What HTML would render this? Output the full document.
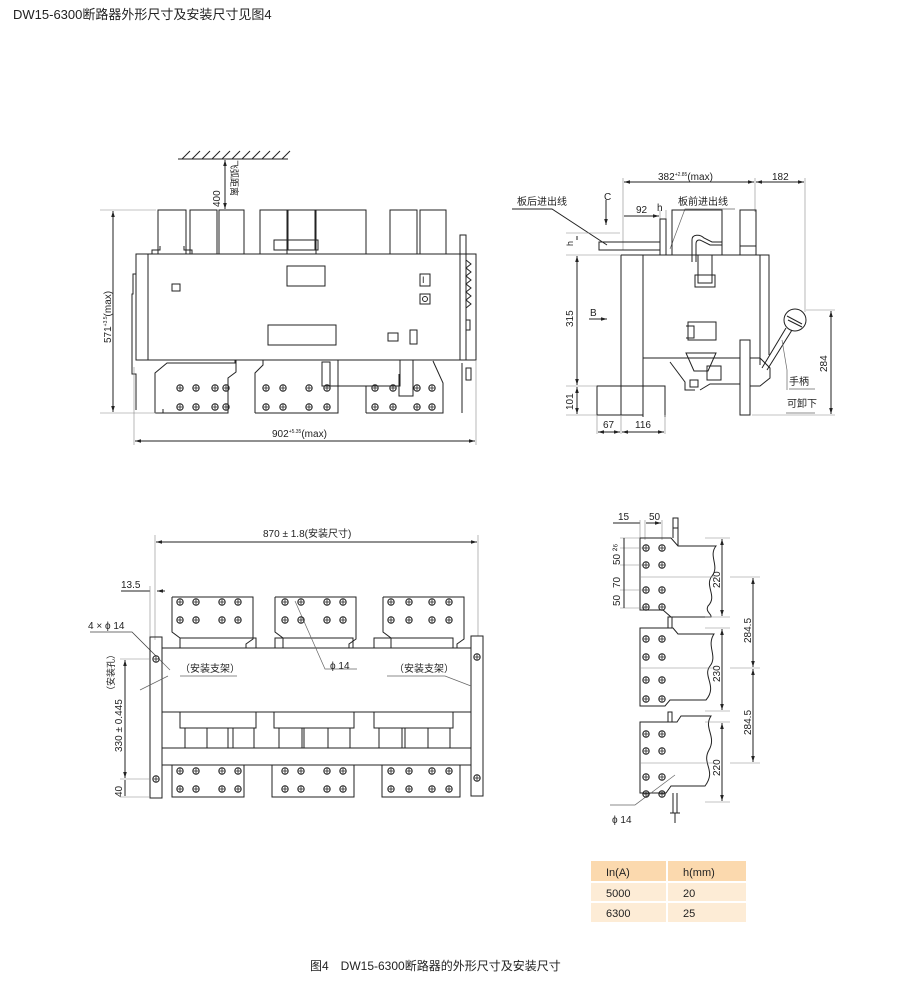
<!DOCTYPE html>
<html><head><meta charset="utf-8"><style>
html,body{margin:0;padding:0;background:#fff;}
svg{display:block;}
text{font-family:"Liberation Sans","Noto Sans CJK SC",sans-serif;fill:#222;}
</style></head><body>
<svg width="920" height="981" viewBox="0 0 920 981" xmlns="http://www.w3.org/2000/svg">
<defs>
<g id="b"><circle r="3.2" fill="none" stroke="#222" stroke-width="1"/><path d="M-3.2 0H3.2M0 -3.2V3.2" stroke="#222" stroke-width="0.8"/></g>
<marker id="a" viewBox="0 0 10 10" refX="10" refY="5" markerWidth="6" markerHeight="6" orient="auto-start-reverse"><path d="M0 2L10 5L0 8z" fill="#222"/></marker>
</defs>
<text x="13" y="19" font-size="13">DW15-6300断路器外形尺寸及安装尺寸见图4</text>

<g fill="none" stroke="#222" stroke-width="1">
<!-- FRONT VIEW -->
<line x1="178" y1="159" x2="288" y2="159"/>
<path d="M182 159l8-8M192 159l8-8M202 159l8-8M212 159l8-8M222 159l8-8M232 159l8-8M242 159l8-8M252 159l8-8M262 159l8-8M272 159l8-8M282 159l8-8"/>
<line x1="225" y1="160" x2="225" y2="209" marker-start="url(#a)" marker-end="url(#a)"/>
<rect x="136" y="254" width="340" height="106"/>
<line x1="148" y1="254" x2="148" y2="360"/>
<path d="M136 254v20h-3v20h-1v80h4v36"/>
<rect x="158" y="210" width="28" height="44"/>
<path d="M152 254v-4h8v-4M184 246v4h8v4"/>
<rect x="190" y="210" width="27" height="44"/>
<rect x="219" y="210" width="25" height="44"/>
<rect x="260" y="210" width="27" height="44"/>
<rect x="288" y="210" width="27" height="40"/>
<rect x="274" y="240" width="44" height="10"/>
<rect x="316" y="210" width="50" height="44"/>
<rect x="390" y="210" width="27" height="44"/>
<rect x="420" y="210" width="26" height="44"/>
<rect x="460" y="235" width="6" height="125"/>
<path d="M466 260l5 4-5 4 5 4-5 4 5 4-5 4 5 4-5 4 5 4-5 4 5 4-5 4"/>
<rect x="466" y="320" width="4" height="10"/>
<rect x="287" y="266" width="38" height="20"/>
<rect x="268" y="325" width="68" height="20"/>
<rect x="172" y="284" width="8" height="7"/>
<rect x="420" y="274" width="10" height="12"/>
<rect x="420" y="294" width="10" height="10"/>
<rect x="388" y="333" width="10" height="8"/>
<rect x="410" y="330" width="7" height="14"/>
<line x1="148" y1="360" x2="476" y2="360"/>
<path d="M155 413v-40l12-10h68v-3M155 413h8v-4M236 360v12l-8 6v35h-73"/>
<path d="M255 413v-40l8-8v-5M255 413h83v-40M338 373v-13"/>
<rect x="322" y="362" width="8" height="24"/>
<path d="M330 386h70v-26M366 413v-27M366 413h77v-30l-10-22M399 374v22h14v-36"/>
<path d="M462 413v-50M466 368h5v12h-5z"/>
<line x1="100" y1="210" x2="156" y2="210" stroke="#888" stroke-width="0.6"/>
<line x1="100" y1="413" x2="156" y2="413" stroke="#888" stroke-width="0.6"/>
<line x1="113" y1="211" x2="113" y2="412" marker-start="url(#a)" marker-end="url(#a)"/>
<line x1="134" y1="367" x2="134" y2="445" stroke="#888" stroke-width="0.6"/>
<line x1="476" y1="360" x2="476" y2="445" stroke="#888" stroke-width="0.6"/>
<line x1="135" y1="441" x2="475" y2="441" marker-start="url(#a)" marker-end="url(#a)"/>

<!-- SIDE VIEW -->
<line x1="623" y1="178" x2="623" y2="250" stroke="#888" stroke-width="0.6"/>
<line x1="755" y1="178" x2="755" y2="212" stroke="#888" stroke-width="0.6"/>
<line x1="805" y1="178" x2="805" y2="312" stroke="#888" stroke-width="0.6"/>
<line x1="624" y1="182" x2="754" y2="182" marker-start="url(#a)" marker-end="url(#a)"/>
<line x1="756" y1="182" x2="804" y2="182" marker-start="url(#a)" marker-end="url(#a)"/>
<line x1="624" y1="216" x2="659" y2="216" marker-end="url(#a)"/>
<line x1="660" y1="210" x2="660" y2="222" stroke="#888" stroke-width="0.6"/>
<line x1="666" y1="210" x2="666" y2="222" stroke="#888" stroke-width="0.6"/>
<path d="M512 209h40l55 36"/>
<path d="M735 209h-50l-15 40" stroke="#666" stroke-width="0.7"/>
<line x1="606" y1="200" x2="606" y2="225" marker-end="url(#a)"/>
<line x1="589" y1="319" x2="607" y2="319" marker-end="url(#a)"/>
<rect x="599" y="242" width="61" height="8"/>
<rect x="660" y="219" width="6" height="36"/>
<rect x="672" y="210" width="50" height="45"/>
<path d="M692 262v-22c0-6 8-6 12-2l8 4h10v3h-12l-8-4c-3-2-6-1-6 3v18"/>
<rect x="698" y="255" width="14" height="28"/>
<rect x="695" y="275" width="20" height="12"/>
<rect x="740" y="210" width="16" height="45"/>
<line x1="740" y1="246" x2="756" y2="246"/>
<path d="M621 255v131M643 255v162M621 255h148v100M760 255v110"/>
<path d="M643 358h97"/>
<rect x="688" y="322" width="28" height="18"/>
<path d="M686 326h8v12h-8"/>
<path d="M686 353h30l-8 18h-14z"/>
<rect x="707" y="366" width="14" height="14"/>
<path d="M670 362l15 20v8h10M700 390l10-6h30"/>
<rect x="690" y="380" width="8" height="7"/>
<rect x="740" y="340" width="10" height="75"/>
<path d="M750 358h10l10 10v10l-10 8h-10"/>
<circle cx="795" cy="320" r="11"/>
<path d="M787 316l15 8M788 320l14 7"/>
<path d="M786 328l-24 40M792 330l-25 40"/>
<path d="M782 340l5 30v20" stroke="#666" stroke-width="0.7"/>
<line x1="789" y1="389" x2="815" y2="389" stroke="#666" stroke-width="0.7"/>
<line x1="786" y1="413" x2="815" y2="413" stroke="#666" stroke-width="0.7"/>
<rect x="597" y="386" width="24" height="29"/>
<rect x="621" y="386" width="22" height="29"/>
<path d="M643 386h22v31"/>
<line x1="566" y1="233" x2="620" y2="233" stroke="#888" stroke-width="0.6"/>
<line x1="566" y1="255" x2="621" y2="255" stroke="#888" stroke-width="0.6"/>
<line x1="566" y1="386" x2="597" y2="386" stroke="#888" stroke-width="0.6"/>
<line x1="566" y1="415" x2="597" y2="415" stroke="#888" stroke-width="0.6"/>
<line x1="577" y1="236" x2="577" y2="240" />
<line x1="577" y1="256" x2="577" y2="385" marker-start="url(#a)" marker-end="url(#a)"/>
<line x1="577" y1="387" x2="577" y2="414" marker-start="url(#a)" marker-end="url(#a)"/>
<line x1="597" y1="415" x2="597" y2="434" stroke="#888" stroke-width="0.6"/>
<line x1="621" y1="415" x2="621" y2="434" stroke="#888" stroke-width="0.6"/>
<line x1="665" y1="415" x2="665" y2="434" stroke="#888" stroke-width="0.6"/>
<line x1="598" y1="432" x2="620" y2="432" marker-start="url(#a)" marker-end="url(#a)"/>
<line x1="622" y1="432" x2="664" y2="432" marker-start="url(#a)" marker-end="url(#a)"/>
<line x1="806" y1="310" x2="835" y2="310" stroke="#888" stroke-width="0.6"/>
<line x1="752" y1="415" x2="835" y2="415" stroke="#888" stroke-width="0.6"/>
<line x1="831" y1="311" x2="831" y2="414" marker-start="url(#a)" marker-end="url(#a)"/>

<!-- MOUNTING VIEW -->
<line x1="155" y1="535" x2="155" y2="640" stroke="#888" stroke-width="0.6"/>
<line x1="478" y1="535" x2="478" y2="636" stroke="#888" stroke-width="0.6"/>
<line x1="156" y1="542" x2="477" y2="542" marker-start="url(#a)" marker-end="url(#a)"/>
<line x1="121" y1="591" x2="150" y2="591"/>
<line x1="150" y1="586" x2="150" y2="640" stroke="#888" stroke-width="0.6"/>
<line x1="157" y1="591" x2="165" y2="591" marker-start="url(#a)"/>
<path d="M90 632h42l24 24" stroke="#444" stroke-width="0.8"/>
<line x1="158" y1="658" x2="170" y2="670" stroke="#666" stroke-width="0.7"/>
<rect x="150" y="637" width="12" height="161"/>
<rect x="471" y="636" width="12" height="160"/>
<rect x="162" y="648" width="309" height="64"/>
<rect x="162" y="748" width="309" height="17"/>
<path d="M172 597h81v42l-7 5v4M172 597v35l8 6v10"/>
<rect x="180" y="638" width="76" height="10"/>
<path d="M275 597h81v42l-7 5v4M275 597v35l8 6v10"/>
<rect x="275" y="638" width="78" height="10"/>
<path d="M383 597h81v42l-7 5v4M383 597v35l8 6v10"/>
<rect x="374" y="638" width="79" height="10"/>
<rect x="180" y="712" width="76" height="16"/>
<rect x="274" y="712" width="80" height="16"/>
<rect x="374" y="712" width="79" height="16"/>
<path d="M185 728v20M207 728v20M228 728v20M233 728v20M254 728v20M279 728v20M302 728v20M304 728v20M328 728v20M350 728v20M379 728v20M402 728v20M405 728v20M428 728v20M450 728v20"/>
<rect x="172" y="765" width="72" height="32"/>
<rect x="272" y="765" width="82" height="32"/>
<rect x="382" y="765" width="78" height="32"/>
<path d="M180 676h57M140 690l28-14" stroke="#666" stroke-width="0.7"/>
<path d="M387 676h58l26 10" stroke="#666" stroke-width="0.7"/>
<path d="M295 601l30 68h32" stroke="#666" stroke-width="0.7"/>
<line x1="120" y1="659" x2="150" y2="659" stroke="#888" stroke-width="0.6"/>
<line x1="120" y1="779" x2="150" y2="779" stroke="#888" stroke-width="0.6"/>
<line x1="120" y1="797" x2="150" y2="797" stroke="#888" stroke-width="0.6"/>
<line x1="125" y1="660" x2="125" y2="778" marker-start="url(#a)" marker-end="url(#a)"/>
<line x1="125" y1="780" x2="125" y2="796"/>

<!-- RIGHT PANEL VIEW -->
<line x1="613" y1="523" x2="640" y2="523"/>
<line x1="640" y1="520" x2="640" y2="540" stroke="#888" stroke-width="0.6"/>
<line x1="645" y1="520" x2="645" y2="540" stroke="#888" stroke-width="0.6"/>
<line x1="662" y1="520" x2="662" y2="540" stroke="#888" stroke-width="0.6"/>
<line x1="646" y1="523" x2="661" y2="523" marker-end="url(#a)"/>
<path d="M640 538h31l7 8h38c-8 10 4 20-4 30s6 20-4 30c-3 6 4 8 3 11h-40l-8-7h-23z"/>
<path d="M640 577h75" stroke="#888" stroke-width="0.6"/>
<path d="M673 538v-20h5v20M678 546v-18h-5"/>
<rect x="668" y="617" width="4" height="11"/>
<path d="M640 628h33l5 6h36c-8 12 4 22-4 32s8 20-4 34h-36l-5 6h-25z"/>
<path d="M640 668h75" stroke="#888" stroke-width="0.6"/>
<rect x="668" y="712" width="4" height="10"/>
<path d="M640 722h37l4-6h30c-8 12 6 20-2 34s8 20-4 36h-34l-5 7h-26z"/>
<path d="M640 763h75" stroke="#888" stroke-width="0.6"/>
<path d="M673 793v20M677 793v20M670 813h10M675 813v10" />
<path d="M610 805h25l40-30" stroke="#666" stroke-width="0.7"/>
<line x1="620" y1="538" x2="640" y2="538" stroke="#888" stroke-width="0.6"/>
<line x1="620" y1="548" x2="645" y2="548" stroke="#888" stroke-width="0.6"/>
<line x1="620" y1="565" x2="645" y2="565" stroke="#888" stroke-width="0.6"/>
<line x1="620" y1="590" x2="645" y2="590" stroke="#888" stroke-width="0.6"/>
<line x1="620" y1="608" x2="645" y2="608" stroke="#888" stroke-width="0.6"/>
<line x1="624" y1="538" x2="624" y2="608"/>
<line x1="705" y1="538" x2="730" y2="538" stroke="#888" stroke-width="0.6"/>
<line x1="705" y1="617" x2="730" y2="617" stroke="#888" stroke-width="0.6"/>
<line x1="722" y1="539" x2="722" y2="616" marker-start="url(#a)" marker-end="url(#a)"/>
<line x1="705" y1="628" x2="730" y2="628" stroke="#888" stroke-width="0.6"/>
<line x1="705" y1="711" x2="730" y2="711" stroke="#888" stroke-width="0.6"/>
<line x1="722" y1="629" x2="722" y2="710" marker-start="url(#a)" marker-end="url(#a)"/>
<line x1="705" y1="722" x2="730" y2="722" stroke="#888" stroke-width="0.6"/>
<line x1="705" y1="802" x2="730" y2="802" stroke="#888" stroke-width="0.6"/>
<line x1="722" y1="723" x2="722" y2="801" marker-start="url(#a)" marker-end="url(#a)"/>
<line x1="730" y1="577" x2="760" y2="577" stroke="#888" stroke-width="0.6"/>
<line x1="730" y1="668" x2="760" y2="668" stroke="#888" stroke-width="0.6"/>
<line x1="730" y1="763" x2="760" y2="763" stroke="#888" stroke-width="0.6"/>
<line x1="753" y1="578" x2="753" y2="667" marker-start="url(#a)" marker-end="url(#a)"/>
<line x1="753" y1="669" x2="753" y2="762" marker-start="url(#a)" marker-end="url(#a)"/>
</g>

<g>
<use href="#b" x="180" y="388"/><use href="#b" x="196" y="388"/><use href="#b" x="215" y="388"/><use href="#b" x="226" y="388"/>
<use href="#b" x="180" y="407"/><use href="#b" x="196" y="407"/><use href="#b" x="215" y="407"/><use href="#b" x="226" y="407"/>
<use href="#b" x="266" y="388"/><use href="#b" x="283" y="388"/><use href="#b" x="309" y="388"/><use href="#b" x="327" y="388"/>
<use href="#b" x="266" y="407"/><use href="#b" x="283" y="407"/><use href="#b" x="309" y="407"/><use href="#b" x="327" y="407"/>
<use href="#b" x="375" y="388"/><use href="#b" x="393" y="388"/><use href="#b" x="417" y="388"/><use href="#b" x="432" y="388"/>
<use href="#b" x="375" y="407"/><use href="#b" x="393" y="407"/><use href="#b" x="417" y="407"/><use href="#b" x="432" y="407"/>
<circle cx="425" cy="299" r="2.5" fill="none" stroke="#222"/>
<!-- mounting bolts -->
<use href="#b" x="180" y="602"/><use href="#b" x="196" y="602"/><use href="#b" x="222" y="602"/><use href="#b" x="238" y="602"/>
<use href="#b" x="180" y="620"/><use href="#b" x="196" y="620"/><use href="#b" x="222" y="620"/><use href="#b" x="238" y="620"/>
<use href="#b" x="285" y="602"/><use href="#b" x="301" y="602"/><use href="#b" x="327" y="602"/><use href="#b" x="343" y="602"/>
<use href="#b" x="285" y="620"/><use href="#b" x="301" y="620"/><use href="#b" x="327" y="620"/><use href="#b" x="343" y="620"/>
<use href="#b" x="391" y="602"/><use href="#b" x="409" y="602"/><use href="#b" x="432" y="602"/><use href="#b" x="449" y="602"/>
<use href="#b" x="391" y="620"/><use href="#b" x="409" y="620"/><use href="#b" x="432" y="620"/><use href="#b" x="449" y="620"/>
<use href="#b" x="180" y="771"/><use href="#b" x="196" y="771"/><use href="#b" x="222" y="771"/><use href="#b" x="238" y="771"/>
<use href="#b" x="180" y="789"/><use href="#b" x="196" y="789"/><use href="#b" x="222" y="789"/><use href="#b" x="238" y="789"/>
<use href="#b" x="285" y="771"/><use href="#b" x="301" y="771"/><use href="#b" x="327" y="771"/><use href="#b" x="343" y="771"/>
<use href="#b" x="285" y="789"/><use href="#b" x="301" y="789"/><use href="#b" x="327" y="789"/><use href="#b" x="343" y="789"/>
<use href="#b" x="391" y="771"/><use href="#b" x="409" y="771"/><use href="#b" x="432" y="771"/><use href="#b" x="449" y="771"/>
<use href="#b" x="391" y="789"/><use href="#b" x="409" y="789"/><use href="#b" x="432" y="789"/><use href="#b" x="449" y="789"/>
<use href="#b" x="156" y="659"/><use href="#b" x="156" y="779"/><use href="#b" x="477" y="657"/><use href="#b" x="477" y="778"/>
<!-- right view bolts -->
<use href="#b" x="646" y="548"/><use href="#b" x="662" y="548"/><use href="#b" x="646" y="565"/><use href="#b" x="662" y="565"/>
<use href="#b" x="646" y="590"/><use href="#b" x="662" y="590"/><use href="#b" x="646" y="607"/><use href="#b" x="662" y="607"/>
<use href="#b" x="646" y="639"/><use href="#b" x="662" y="639"/><use href="#b" x="646" y="657"/><use href="#b" x="662" y="657"/>
<use href="#b" x="646" y="680"/><use href="#b" x="662" y="680"/><use href="#b" x="646" y="699"/><use href="#b" x="662" y="699"/>
<use href="#b" x="646" y="734"/><use href="#b" x="662" y="734"/><use href="#b" x="646" y="751"/><use href="#b" x="662" y="751"/>
<use href="#b" x="646" y="777"/><use href="#b" x="662" y="777"/><use href="#b" x="646" y="794"/><use href="#b" x="662" y="794"/>
</g>

<!-- labels -->
<g font-size="10">
<text x="422" y="283" font-size="9">I</text>
<text transform="translate(220,207) rotate(-90)">400</text>
<text transform="translate(231,160) rotate(90)" font-size="9">飞弧距离</text>
<text transform="translate(111,343) rotate(-90)">571<tspan font-size="5" dy="-4">+3.5</tspan><tspan dy="4">(max)</tspan></text>
<text x="272" y="437">902<tspan font-size="5" dy="-4">+5.35</tspan><tspan dy="4">(max)</tspan></text>
<text x="658" y="180">382<tspan font-size="5" dy="-4">+2.85</tspan><tspan dy="4">(max)</tspan></text>
<text x="772" y="180">182</text>
<text x="517" y="205">板后进出线</text>
<text x="604" y="200">C</text>
<text x="636" y="213">92</text>
<text x="657" y="211">h</text>
<text x="678" y="205">板前进出线</text>
<text transform="translate(573,246) rotate(-90)" font-size="9">h</text>
<text transform="translate(573,327) rotate(-90)">315</text>
<text x="590" y="316">B</text>
<text transform="translate(573,410) rotate(-90)">101</text>
<text x="603" y="428">67</text>
<text x="635" y="428">116</text>
<text x="789" y="385">手柄</text>
<text x="787" y="407">可卸下</text>
<text transform="translate(827,372) rotate(-90)">284</text>
<text x="263" y="537">870 ± 1.8(安装尺寸)</text>
<text x="121" y="588">13.5</text>
<text x="88" y="629">4 × ϕ 14</text>
<text x="180" y="672">（安装支架）</text>
<text x="330" y="669">ϕ 14</text>
<text x="394" y="672">（安装支架）</text>
<text transform="translate(114,695) rotate(-90)" font-size="9">（安装孔）</text>
<text transform="translate(122,752) rotate(-90)">330 ± 0.445</text>
<text transform="translate(122,797) rotate(-90)">40</text>
<text x="618" y="520">15</text>
<text x="649" y="520">50</text>
<text transform="translate(620,565) rotate(-90)">50 ²⁶</text>
<text transform="translate(620,588) rotate(-90)">70</text>
<text transform="translate(620,606) rotate(-90)">50</text>
<text transform="translate(720,588) rotate(-90)">220</text>
<text transform="translate(720,682) rotate(-90)">230</text>
<text transform="translate(720,776) rotate(-90)">220</text>
<text transform="translate(751,643) rotate(-90)">284.5</text>
<text transform="translate(751,735) rotate(-90)">284.5</text>
<text x="612" y="823">ϕ 14</text>
</g>

<!-- table -->
<rect x="591" y="861" width="155" height="21" fill="#fbd9ae"/>
<rect x="591" y="882" width="155" height="20" fill="#fdecd6"/>
<rect x="591" y="902" width="155" height="20" fill="#fdecd6"/>
<line x1="591" y1="882" x2="746" y2="882" stroke="#fff" stroke-width="2"/>
<line x1="591" y1="902" x2="746" y2="902" stroke="#fff" stroke-width="2"/>
<line x1="667" y1="861" x2="667" y2="922" stroke="#fff" stroke-width="2"/>
<g font-size="11">
<text x="606" y="876">In(A)</text><text x="683" y="876">h(mm)</text>
<text x="606" y="897">5000</text><text x="683" y="897">20</text>
<text x="606" y="917">6300</text><text x="683" y="917">25</text>
</g>
<text x="310" y="970" font-size="12">图4　DW15-6300断路器的外形尺寸及安装尺寸</text>
</svg>
</body></html>
